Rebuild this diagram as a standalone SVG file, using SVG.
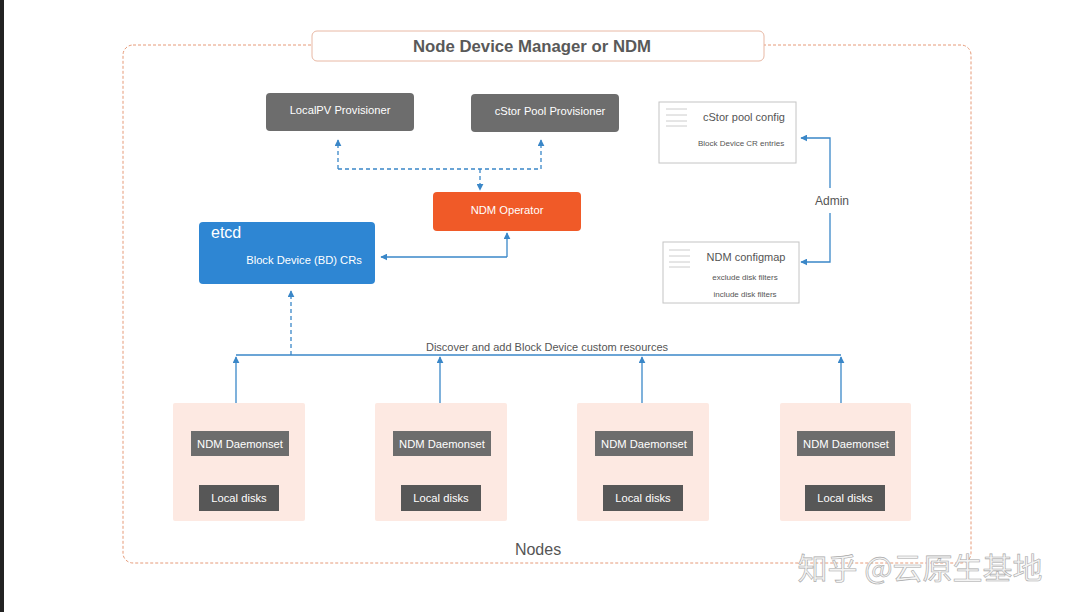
<svg xmlns="http://www.w3.org/2000/svg" width="1080" height="612" viewBox="0 0 1080 612">
<defs>
<style>
.t{font-family:"Liberation Sans",Arial,sans-serif}
.w{fill:#fff;font-size:11.2px;text-anchor:middle}
.g{fill:#6d6d6d}
.ld{fill:#575757}
.node{fill:#fde9e2}
.blue{stroke:#3a87c8;stroke-width:1.3;fill:none}
.dash{stroke-dasharray:4 3}
.cfg{fill:#fff;stroke:#c4c4c4;stroke-width:1}
.ham{stroke:#ccc;stroke-width:1}
</style>
<marker id="a" viewBox="0 0 10 10" refX="9" refY="5" markerWidth="7" markerHeight="7" orient="auto-start-reverse" markerUnits="userSpaceOnUse">
<path d="M0,0 L10,5 L0,10 z" fill="#3a87c8"/>
</marker>
</defs>
<rect width="1080" height="612" fill="#fff"/>
<rect x="0" y="0" width="4" height="612" fill="#222"/>
<rect x="123" y="45" width="848" height="518" rx="10" fill="none" stroke="#e69a78" stroke-width="1" stroke-dasharray="3 2"/>
<g id="title">
<rect x="312" y="31" width="452" height="30" rx="5" fill="#fff" stroke="#e8b8a4"/>
<text class="t" x="532" y="52" font-size="17" font-weight="bold" fill="#595959" text-anchor="middle" textLength="238" lengthAdjust="spacingAndGlyphs">Node Device Manager or NDM</text>
</g>
<g id="connectors">
<path class="blue dash" d="M338,169 V140" marker-end="url(#a)"/>
<path class="blue dash" d="M541,169 V140" marker-end="url(#a)"/>
<path class="blue dash" d="M338,169 H541"/>
<path class="blue dash" d="M480,169 V190" marker-end="url(#a)"/>
<path class="blue" d="M507,257 H381" marker-end="url(#a)"/>
<path class="blue" d="M507,257 V233" marker-end="url(#a)"/>
<path class="blue dash" d="M291,355 V291" marker-end="url(#a)"/>
<path class="blue" d="M236,355 H841"/>
<path class="blue" d="M236,403 V357" marker-end="url(#a)"/>
<path class="blue" d="M440,403 V357" marker-end="url(#a)"/>
<path class="blue" d="M642,403 V357" marker-end="url(#a)"/>
<path class="blue" d="M841,403 V357" marker-end="url(#a)"/>
<path class="blue" d="M830,188 V138 H801" marker-end="url(#a)"/>
<path class="blue" d="M830,213 V262 H801" marker-end="url(#a)"/>
<text class="t" x="832" y="205" font-size="12" fill="#555" text-anchor="middle">Admin</text>
<text class="t" x="547" y="351" font-size="11" fill="#555" text-anchor="middle">Discover and add Block Device custom resources</text>
</g>
<g id="localpv">
<rect class="g" x="266" y="93" width="148" height="38" rx="4"/>
<text class="t w" x="340" y="114">LocalPV Provisioner</text>
</g>
<g id="cstorprov">
<rect class="g" x="471" y="94" width="148" height="38" rx="4"/>
<text class="t w" x="550" y="115">cStor Pool Provisioner</text>
</g>
<g id="operator">
<rect x="433" y="192" width="148" height="39" rx="4" fill="#f05a28"/>
<text class="t w" x="507" y="214">NDM Operator</text>
</g>
<g id="etcd">
<rect x="199" y="222" width="176" height="62" rx="4" fill="#2e86d3"/>
<text class="t" x="211" y="238" font-size="16" fill="#fff">etcd</text>
<text class="t w" x="304" y="264">Block Device (BD) CRs</text>
</g>
<g id="cstorcfg">
<rect class="cfg" x="659" y="102" width="137" height="61"/>
<path class="ham" d="M666,109 H687 M666,115 H687 M666,121 H687 M666,126 H687"/>
<text class="t" x="744" y="121" font-size="11" fill="#555" text-anchor="middle">cStor pool config</text>
<text class="t" x="741" y="146" font-size="8" fill="#555" text-anchor="middle">Block Device CR entries</text>
</g>
<g id="configmap">
<rect class="cfg" x="663" y="242" width="136" height="61"/>
<path class="ham" d="M669,250 H690 M669,256 H690 M669,262 H690 M669,267 H690"/>
<text class="t" x="746" y="261" font-size="11" fill="#555" text-anchor="middle">NDM configmap</text>
<text class="t" x="745" y="280" font-size="8" fill="#555" text-anchor="middle">exclude disk filters</text>
<text class="t" x="745" y="297" font-size="8" fill="#555" text-anchor="middle">include disk filters</text>
</g>
<g id="node1">
<rect class="node" x="173" y="403" width="132" height="118" rx="2"/>
<rect class="g" x="191" y="431" width="98" height="25"/>
<text class="t w" x="240" y="448">NDM Daemonset</text>
<rect class="ld" x="199" y="485" width="80" height="26"/>
<text class="t w" x="239" y="502">Local disks</text>
</g>
<g id="node2">
<rect class="node" x="375" y="403" width="132" height="118" rx="2"/>
<rect class="g" x="393" y="431" width="98" height="25"/>
<text class="t w" x="442" y="448">NDM Daemonset</text>
<rect class="ld" x="401" y="485" width="80" height="26"/>
<text class="t w" x="441" y="502">Local disks</text>
</g>
<g id="node3">
<rect class="node" x="577" y="403" width="132" height="118" rx="2"/>
<rect class="g" x="595" y="431" width="98" height="25"/>
<text class="t w" x="644" y="448">NDM Daemonset</text>
<rect class="ld" x="603" y="485" width="80" height="26"/>
<text class="t w" x="643" y="502">Local disks</text>
</g>
<g id="node4">
<rect class="node" x="780" y="403" width="131" height="118" rx="2"/>
<rect class="g" x="797" y="431" width="98" height="25"/>
<text class="t w" x="846" y="448">NDM Daemonset</text>
<rect class="ld" x="805" y="485" width="80" height="26"/>
<text class="t w" x="845" y="502">Local disks</text>
</g>
<text class="t" x="538" y="555" font-size="16" fill="#555" text-anchor="middle">Nodes</text>
<text x="920" y="579" font-family="'Noto Sans CJK SC',sans-serif" font-size="30" fill="#f4f4f4" stroke="#a8a8a8" stroke-width="0.6" text-anchor="middle">知乎 @云原生基地</text>
</svg>
